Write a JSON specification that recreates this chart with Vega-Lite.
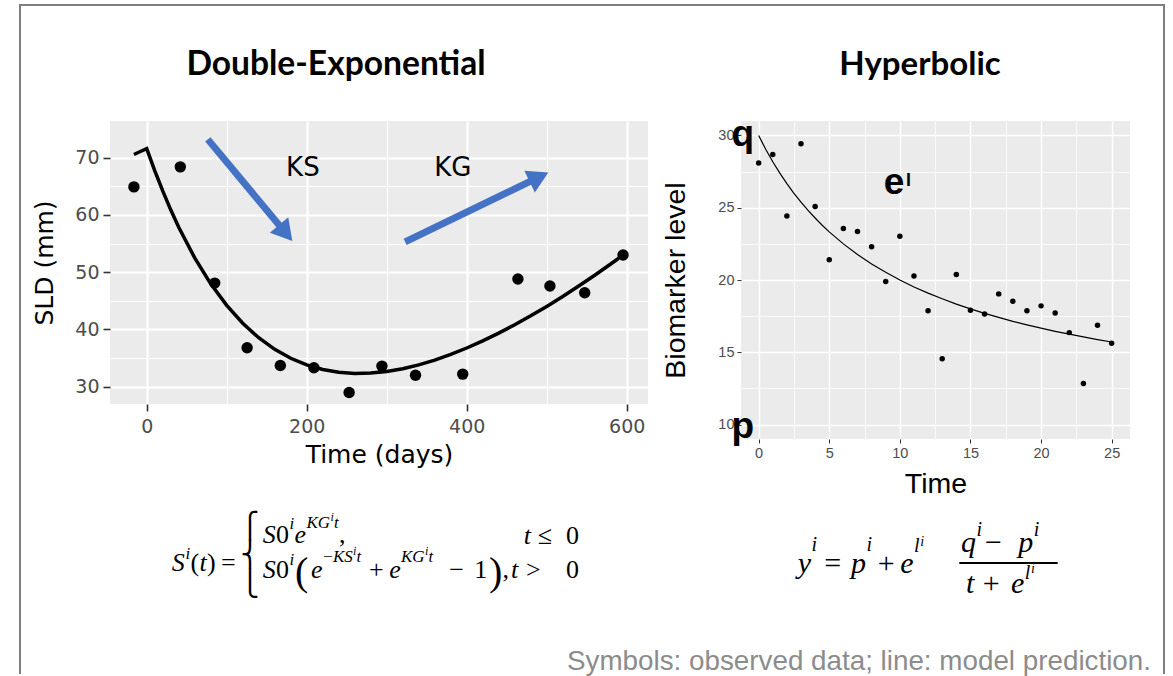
{
  "$schema": "https://vega.github.io/schema/vega-lite/v6.json",
  "background": "white",
  "padding": {"left": 18, "top": 3, "right": 0, "bottom": 0},
  "autosize": {"type": "pad"},
  "bounds": "flush",
  "spacing": 93,
  "config": {"view": {"stroke": null, "fill": "#EBEBEB"}},
  "hconcat": [
    {
      "width": 538,
      "height": 283,
      "layer": [
        {
          "encoding": {
            "x": {"field": "t", "type": "quantitative",
              "scale": {"domain": [-45.9, 626.6], "nice": false, "zero": false},
              "axis": {"values": [0, 100, 200, 300, 400, 500, 600],
                "labelExpr": "datum.value % 200 === 0 ? datum.label : ''",
                "grid": true, "gridColor": "white",
                "gridWidth": {"condition": {"test": "datum.value % 200 === 0", "value": 2.2}, "value": 1.1},
                "tickOpacity": {"condition": {"test": "datum.value % 200 === 0", "value": 1}, "value": 0},
                "tickColor": "#333333", "tickSize": 7, "tickWidth": 1.6, "domain": false,
                "labelFont": "DejaVu Sans", "labelFontSize": 19, "labelColor": "#4D4D4D", "labelPadding": 6, "labelFlush": false,
                "title": "Time (days)", "titleFont": "DejaVu Sans", "titleFontSize": 25, "titleFontWeight": "normal", "titleColor": "black", "titlePadding": 6}},
            "y": {"field": "sld", "type": "quantitative",
              "scale": {"domain": [26.98, 76.41], "nice": false, "zero": false},
              "axis": {"values": [30, 35, 40, 45, 50, 55, 60, 65, 70],
                "labelExpr": "datum.value % 10 === 0 ? datum.label : ''",
                "grid": true, "gridColor": "white",
                "gridWidth": {"condition": {"test": "datum.value % 10 === 0", "value": 2.2}, "value": 1.1},
                "tickOpacity": {"condition": {"test": "datum.value % 10 === 0", "value": 1}, "value": 0},
                "tickColor": "#333333", "tickSize": 7, "tickWidth": 1.6, "domain": false,
                "labelFont": "DejaVu Sans", "labelFontSize": 19, "labelColor": "#4D4D4D", "labelPadding": 4, "labelFlush": false,
                "title": "SLD (mm)", "titleFont": "DejaVu Sans", "titleFontSize": 25, "titleFontWeight": "normal", "titleColor": "black", "titlePadding": 17}}
          },
          "layer": [
            {
              "data": {"values": [{}]},
              "mark": {"type": "rect", "color": "white"},
              "encoding": {"x": {"datum": -60}, "x2": {"datum": 640}, "y": {"datum": 73.79}, "y2": {"datum": 78}}
            },
            {
              "data": {"values": [
                {"t": -16, "sld": 70.56}, {"t": -8, "sld": 71.08}, {"t": 0, "sld": 71.6},
                {"t": 10, "sld": 67.75}, {"t": 20, "sld": 64.19}, {"t": 30, "sld": 60.89},
                {"t": 40, "sld": 57.86}, {"t": 60, "sld": 52.5}, {"t": 80, "sld": 47.97},
                {"t": 100, "sld": 44.2}, {"t": 120, "sld": 41.08}, {"t": 140, "sld": 38.55},
                {"t": 160, "sld": 36.53}, {"t": 180, "sld": 34.97}, {"t": 200, "sld": 33.8},
                {"t": 220, "sld": 33.0}, {"t": 240, "sld": 32.52}, {"t": 260, "sld": 32.32},
                {"t": 280, "sld": 32.38}, {"t": 300, "sld": 32.66}, {"t": 320, "sld": 33.15},
                {"t": 340, "sld": 33.82}, {"t": 360, "sld": 34.65}, {"t": 380, "sld": 35.64},
                {"t": 400, "sld": 36.76}, {"t": 420, "sld": 38.0}, {"t": 440, "sld": 39.36},
                {"t": 460, "sld": 40.82}, {"t": 480, "sld": 42.38}, {"t": 500, "sld": 44.03},
                {"t": 520, "sld": 45.76}, {"t": 540, "sld": 47.58}, {"t": 560, "sld": 49.47},
                {"t": 580, "sld": 51.43}, {"t": 590, "sld": 52.43}
              ]},
              "mark": {"type": "line", "color": "black", "strokeWidth": 3.5},
              "encoding": {"order": {"field": "t", "type": "quantitative"}}
            },
            {
              "data": {"values": [
                {"t": -16, "sld": 64.9}, {"t": 42, "sld": 68.4}, {"t": 85, "sld": 48.1},
                {"t": 125.5, "sld": 36.8}, {"t": 167, "sld": 33.7}, {"t": 209, "sld": 33.3},
                {"t": 253, "sld": 29.0}, {"t": 294, "sld": 33.6}, {"t": 336, "sld": 32.0},
                {"t": 395, "sld": 32.2}, {"t": 464, "sld": 48.8}, {"t": 504, "sld": 47.6},
                {"t": 547.5, "sld": 46.4}, {"t": 595.4, "sld": 53.0}
              ]},
              "mark": {"type": "circle", "color": "black", "opacity": 1, "size": 130}
            },
            {
              "data": {"values": [
                {"t": 76.4, "sld": 73.2, "t2": 173.7, "sld2": 56.85},
                {"t": 323, "sld": 55.3, "t2": 490.3, "sld2": 66.61}
              ]},
              "mark": {"type": "rule", "color": "#4472C4", "strokeWidth": 7},
              "encoding": {"x2": {"field": "t2"}, "y2": {"field": "sld2"}}
            },
            {
              "data": {"values": [
                {"t": 173.7, "sld": 56.85, "ang": 140.25},
                {"t": 490.3, "sld": 66.61, "ang": 64.2}
              ]},
              "mark": {"type": "point", "shape": "triangle-up", "filled": true, "color": "#4472C4", "opacity": 1, "size": 576, "strokeWidth": 0},
              "encoding": {"angle": {"field": "ang", "type": "quantitative", "scale": null}}
            },
            {
              "data": {"values": [
                {"t": 195.2, "sld": 68.25, "label": "KS"},
                {"t": 382.6, "sld": 68.25, "label": "KG"}
              ]},
              "mark": {"type": "text", "font": "DejaVu Sans", "fontSize": 26, "color": "black", "align": "center", "baseline": "middle"},
              "encoding": {"text": {"field": "label"}}
            }
          ]
        },
        {
          "encoding": {
            "x": {"field": "px", "type": "quantitative", "scale": {"domain": [109, 647], "nice": false, "zero": false}, "axis": null},
            "y": {"field": "py", "type": "quantitative", "scale": {"domain": [403, 120], "nice": false, "zero": false}, "axis": null}
          },
          "layer": [
            {
              "data": {"values": [
                {"px": 19, "py": 4, "px2": 19, "py2": 672},
                {"px": 19, "py": 4, "px2": 1163, "py2": 4},
                {"px": 1163, "py": 4, "px2": 1163, "py2": 672}
              ]},
              "mark": {"type": "rule", "color": "#7F7F7F", "strokeWidth": 2, "strokeCap": "square"},
              "encoding": {"x2": {"field": "px2"}, "y2": {"field": "py2"}}
            },
            {
              "data": {"values": [{"px": 335, "py": 74.3, "txt": "Double-Exponential"}]},
              "mark": {"type": "text", "font": "Lato", "fontWeight": "bold", "fontSize": 33.6, "color": "black", "align": "center", "baseline": "alphabetic"},
              "encoding": {"text": {"field": "txt"}}
            },
            {
              "data": {"values": [
                {"px": 170.7, "py": 570, "txt": "S"}, {"px": 198.5, "py": 570, "txt": "t"},
                {"px": 261.7, "py": 542, "txt": "S"}, {"px": 293.5, "py": 542, "txt": "e"},
                {"px": 522.7, "py": 543, "txt": "t"},
                {"px": 261.7, "py": 577, "txt": "S"}, {"px": 310, "py": 577, "txt": "e"},
                {"px": 388.3, "py": 577, "txt": "e"}, {"px": 510, "py": 577, "txt": "t"}
              ]},
              "mark": {"type": "text", "font": "Liberation Serif", "fontStyle": "italic", "fontSize": 26, "color": "black", "align": "left", "baseline": "alphabetic"},
              "encoding": {"text": {"field": "txt"}}
            },
            {
              "data": {"values": [
                {"px": 189.5, "py": 570, "txt": "("}, {"px": 206, "py": 570, "txt": ")"},
                {"px": 220, "py": 570, "txt": "="},
                {"px": 275, "py": 542, "txt": "0"}, {"px": 338, "py": 542, "txt": ","},
                {"px": 536.7, "py": 543, "txt": "≤"}, {"px": 565, "py": 543, "txt": "0"},
                {"px": 275, "py": 577, "txt": "0"}, {"px": 368, "py": 577, "txt": "+"},
                {"px": 448.3, "py": 577, "txt": "−"}, {"px": 473.3, "py": 577, "txt": "1"},
                {"px": 501.5, "py": 577, "txt": ","}, {"px": 525, "py": 577, "txt": ">"},
                {"px": 565, "py": 577, "txt": "0"}
              ]},
              "mark": {"type": "text", "font": "Liberation Serif", "fontSize": 26, "color": "black", "align": "left", "baseline": "alphabetic"},
              "encoding": {"text": {"field": "txt"}}
            },
            {
              "data": {"values": [
                {"px": 184.5, "py": 558, "txt": "i"},
                {"px": 288.5, "py": 528, "txt": "i"}, {"px": 305.5, "py": 527, "txt": "KG"},
                {"px": 333, "py": 527, "txt": "t"},
                {"px": 288.5, "py": 564, "txt": "i"}, {"px": 332, "py": 561, "txt": "KS"},
                {"px": 355.5, "py": 561, "txt": "t"}, {"px": 400, "py": 561, "txt": "KG"},
                {"px": 427.5, "py": 561, "txt": "t"}
              ]},
              "mark": {"type": "text", "font": "Liberation Serif", "fontStyle": "italic", "fontSize": 17, "color": "black", "align": "left", "baseline": "alphabetic"},
              "encoding": {"text": {"field": "txt"}}
            },
            {
              "data": {"values": [{"px": 322, "py": 561, "txt": "−"}]},
              "mark": {"type": "text", "font": "Liberation Serif", "fontSize": 17, "color": "black", "align": "left", "baseline": "alphabetic"},
              "encoding": {"text": {"field": "txt"}}
            },
            {
              "data": {"values": [
                {"px": 329.5, "py": 520, "txt": "i"}, {"px": 352, "py": 554, "txt": "i"},
                {"px": 424, "py": 554, "txt": "i"}
              ]},
              "mark": {"type": "text", "font": "Liberation Serif", "fontStyle": "italic", "fontSize": 12, "color": "black", "align": "left", "baseline": "alphabetic"},
              "encoding": {"text": {"field": "txt"}}
            },
            {
              "data": {"values": [{"px": 294, "py": 584, "txt": "("}, {"px": 488, "py": 584, "txt": ")"}]},
              "mark": {"type": "text", "font": "Liberation Serif", "fontSize": 40, "color": "black", "align": "left", "baseline": "alphabetic"},
              "encoding": {"text": {"field": "txt"}}
            },
            {
              "data": {"values": [{"px": 249, "py": 533, "txt": ["⎧", "⎨", "⎩"]}]},
              "mark": {"type": "text", "font": "DejaVu Sans", "fontSize": 25, "lineHeight": 29.1, "color": "black", "align": "center", "baseline": "alphabetic"},
              "encoding": {"text": {"field": "txt"}}
            }
          ]
        }
      ],
      "resolve": {"scale": {"x": "independent", "y": "independent"}}
    },
    {
      "width": 389,
      "height": 318,
      "layer": [
        {
          "encoding": {
            "x": {"field": "time", "type": "quantitative",
              "scale": {"domain": [-1.25, 26.3], "nice": false, "zero": false},
              "axis": {"values": [0, 2.5, 5, 7.5, 10, 12.5, 15, 17.5, 20, 22.5, 25],
                "labelExpr": "datum.value % 5 === 0 ? datum.label : ''",
                "grid": true, "gridColor": "white",
                "gridWidth": {"condition": {"test": "datum.value % 5 === 0", "value": 1.4}, "value": 0.7},
                "tickOpacity": {"condition": {"test": "datum.value % 5 === 0", "value": 1}, "value": 0},
                "tickColor": "#333333", "tickSize": 4, "tickWidth": 1, "domain": false,
                "labelFont": "Liberation Sans", "labelFontSize": 14.5, "labelColor": "#4D4D4D", "labelPadding": 3.6, "labelFlush": false,
                "title": "Time", "titleFont": "Liberation Sans", "titleFontSize": 28.5, "titleFontWeight": "normal", "titleColor": "black", "titlePadding": 9}},
            "y": {"field": "bio", "type": "quantitative",
              "scale": {"domain": [9, 31], "nice": false, "zero": false},
              "axis": {"values": [10, 12.5, 15, 17.5, 20, 22.5, 25, 27.5, 30],
                "labelExpr": "datum.value % 5 === 0 ? datum.label : ''",
                "grid": true, "gridColor": "white",
                "gridWidth": {"condition": {"test": "datum.value % 5 === 0", "value": 1.4}, "value": 0.7},
                "tickOpacity": {"condition": {"test": "datum.value % 5 === 0", "value": 1}, "value": 0},
                "tickColor": "#333333", "tickSize": 4, "tickWidth": 1, "domain": false,
                "labelFont": "Liberation Sans", "labelFontSize": 14.5, "labelColor": "#4D4D4D", "labelPadding": 3, "labelFlush": false,
                "title": "Biomarker level", "titleFont": "Liberation Sans", "titleFontSize": 28.5, "titleFontWeight": "normal", "titleColor": "black", "titlePadding": 27}}
          },
          "layer": [
            {
              "data": {"values": [{"bio": 10}, {"bio": 30}]},
              "mark": {"type": "rule", "color": "black", "strokeWidth": 0.9, "strokeDash": [3, 3]},
              "encoding": {"x": {"datum": -1.25}, "x2": {"datum": 26.3}}
            },
            {
              "data": {"values": [{}]},
              "mark": {"type": "rule", "color": "#999999", "strokeWidth": 1, "strokeDash": [2, 2]},
              "encoding": {"x": {"datum": 10}, "y": {"datum": 9}, "y2": {"datum": 31}}
            },
            {
              "data": {"values": [
                {"time": 0, "bio": 30}, {"time": 0.5, "bio": 29.05}, {"time": 1, "bio": 28.18},
                {"time": 1.5, "bio": 27.39}, {"time": 2, "bio": 26.67}, {"time": 2.5, "bio": 26.0},
                {"time": 3, "bio": 25.38}, {"time": 3.5, "bio": 24.81}, {"time": 4, "bio": 24.29},
                {"time": 4.5, "bio": 23.79}, {"time": 5, "bio": 23.33}, {"time": 6, "bio": 22.5},
                {"time": 7, "bio": 21.76}, {"time": 8, "bio": 21.11}, {"time": 9, "bio": 20.53},
                {"time": 10, "bio": 20.0}, {"time": 11, "bio": 19.52}, {"time": 12, "bio": 19.09},
                {"time": 13, "bio": 18.7}, {"time": 14, "bio": 18.33}, {"time": 15, "bio": 18.0},
                {"time": 16, "bio": 17.69}, {"time": 17, "bio": 17.41}, {"time": 18, "bio": 17.14},
                {"time": 19, "bio": 16.9}, {"time": 20, "bio": 16.67}, {"time": 21, "bio": 16.45},
                {"time": 22, "bio": 16.25}, {"time": 23, "bio": 16.06}, {"time": 24, "bio": 15.88},
                {"time": 25, "bio": 15.71}
              ]},
              "mark": {"type": "line", "color": "black", "strokeWidth": 1.2},
              "encoding": {"order": {"field": "time", "type": "quantitative"}}
            },
            {
              "data": {"values": [
                {"time": 0, "bio": 28.1}, {"time": 1, "bio": 28.68}, {"time": 2, "bio": 24.43},
                {"time": 3, "bio": 29.42}, {"time": 4, "bio": 25.08}, {"time": 5, "bio": 21.4},
                {"time": 6, "bio": 23.57}, {"time": 7, "bio": 23.36}, {"time": 8, "bio": 22.3},
                {"time": 9, "bio": 19.9}, {"time": 10, "bio": 23.02}, {"time": 11, "bio": 20.27},
                {"time": 12, "bio": 17.88}, {"time": 13, "bio": 14.55}, {"time": 14, "bio": 20.38},
                {"time": 15, "bio": 17.91}, {"time": 16, "bio": 17.65}, {"time": 17, "bio": 19.04},
                {"time": 18, "bio": 18.53}, {"time": 19, "bio": 17.88}, {"time": 20, "bio": 18.21},
                {"time": 21, "bio": 17.72}, {"time": 22, "bio": 16.36}, {"time": 23, "bio": 12.84},
                {"time": 24, "bio": 16.87}, {"time": 25, "bio": 15.62}
              ]},
              "mark": {"type": "circle", "color": "black", "opacity": 1, "size": 30}
            },
            {
              "data": {"values": [
                {"time": -1.13, "bio": 29.27, "label": "q"},
                {"time": -1.13, "bio": 9.07, "label": "p"},
                {"time": 9.586, "bio": 25.93, "label": "e"}
              ]},
              "mark": {"type": "text", "font": "Liberation Sans", "fontWeight": "bold", "fontSize": 37, "color": "black", "align": "center", "baseline": "alphabetic"},
              "encoding": {"text": {"field": "label"}}
            },
            {
              "data": {"values": [{"time": 10.62, "bio": 26.5, "label": "l"}]},
              "mark": {"type": "text", "font": "Liberation Sans", "fontWeight": "bold", "fontSize": 18, "color": "black", "align": "center", "baseline": "alphabetic"},
              "encoding": {"text": {"field": "label"}}
            }
          ]
        },
        {
          "encoding": {
            "x": {"field": "px", "type": "quantitative", "scale": {"domain": [740, 1129], "nice": false, "zero": false}, "axis": null},
            "y": {"field": "py", "type": "quantitative", "scale": {"domain": [438, 120], "nice": false, "zero": false}, "axis": null}
          },
          "layer": [
            {
              "data": {"values": [{"px": 919, "py": 73.5, "txt": "Hyperbolic"}]},
              "mark": {"type": "text", "font": "Lato", "fontWeight": "bold", "fontSize": 33, "color": "black", "align": "center", "baseline": "alphabetic"},
              "encoding": {"text": {"field": "txt"}}
            },
            {
              "data": {"values": [
                {"px": 796.7, "py": 572, "txt": "y"}, {"px": 850, "py": 572, "txt": "p"},
                {"px": 899.3, "py": 572, "txt": "e"}, {"px": 960, "py": 551, "txt": "q"},
                {"px": 1017.3, "py": 551, "txt": "p"}, {"px": 965, "py": 592, "txt": "t"},
                {"px": 1010, "py": 592, "txt": "e"}
              ]},
              "mark": {"type": "text", "font": "Liberation Serif", "fontStyle": "italic", "fontSize": 30, "color": "black", "align": "left", "baseline": "alphabetic"},
              "encoding": {"text": {"field": "txt"}}
            },
            {
              "data": {"values": [
                {"px": 823.3, "py": 572, "txt": "="}, {"px": 876.7, "py": 572, "txt": "+"},
                {"px": 984, "py": 551, "txt": "−"}, {"px": 981.7, "py": 592, "txt": "+"}
              ]},
              "mark": {"type": "text", "font": "Liberation Serif", "fontSize": 30, "color": "black", "align": "left", "baseline": "alphabetic"},
              "encoding": {"text": {"field": "txt"}}
            },
            {
              "data": {"values": [
                {"px": 810.5, "py": 550, "txt": "i"}, {"px": 865.5, "py": 550, "txt": "i"},
                {"px": 913, "py": 551, "txt": "l"}, {"px": 975.5, "py": 535, "txt": "i"},
                {"px": 1032.8, "py": 535, "txt": "i"}, {"px": 1023.8, "py": 578, "txt": "l"}
              ]},
              "mark": {"type": "text", "font": "Liberation Serif", "fontStyle": "italic", "fontSize": 20, "color": "black", "align": "left", "baseline": "alphabetic"},
              "encoding": {"text": {"field": "txt"}}
            },
            {
              "data": {"values": [{"px": 919.2, "py": 545, "txt": "i"}, {"px": 1030, "py": 572, "txt": "i"}]},
              "mark": {"type": "text", "font": "Liberation Serif", "fontStyle": "italic", "fontSize": 14, "color": "black", "align": "left", "baseline": "alphabetic"},
              "encoding": {"text": {"field": "txt"}}
            },
            {
              "data": {"values": [{"px": 958.3, "py": 562, "px2": 1056.7}]},
              "mark": {"type": "rule", "color": "black", "strokeWidth": 2},
              "encoding": {"x2": {"field": "px2"}}
            },
            {
              "data": {"values": [{"px": 1150, "py": 669, "txt": "Symbols: observed data; line: model prediction."}]},
              "mark": {"type": "text", "font": "Liberation Sans", "fontSize": 27.8, "color": "#8C8C8C", "align": "right", "baseline": "alphabetic"},
              "encoding": {"text": {"field": "txt"}}
            }
          ]
        }
      ],
      "resolve": {"scale": {"x": "independent", "y": "independent"}}
    }
  ]
}
